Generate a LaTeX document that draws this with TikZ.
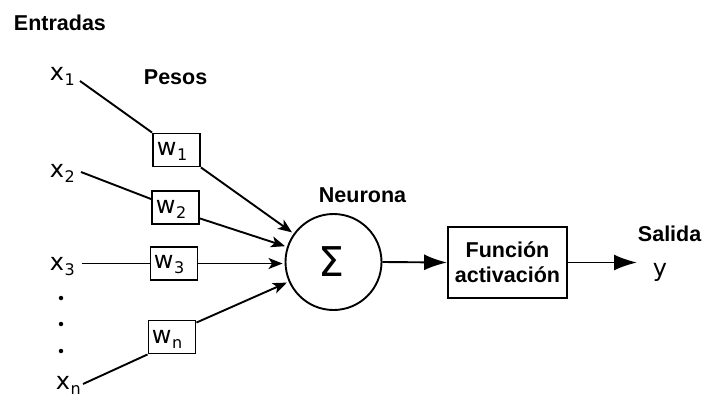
\documentclass[tikz,border=0pt]{standalone}
\usepackage{fontspec}
\newfontfamily\dejavu{DejaVu Sans}
\newfontfamily\arialike{Liberation Sans}
\usetikzlibrary{arrows.meta}

% variable with a lowered index, e.g. x_1, w_n
\newcommand{\varsub}[2]{{\fontsize{24}{24}\selectfont #1}\kern0.5pt\raisebox{-5pt}{\fontsize{16}{16}\selectfont #2}}

\begin{document}
\begin{tikzpicture}[x=1pt,y=-1pt,
  line width=1.9pt,
  title/.style={font=\arialike\bfseries\fontsize{21.5}{25}\selectfont, inner sep=0pt, anchor=base west},
  var/.style={font=\dejavu, inner sep=0pt, anchor=base west},
  wbox/.style={draw, minimum width=47pt, minimum height=33pt, inner sep=0pt},
  dot/.style={circle, fill, minimum size=4.5pt, inner sep=0pt},
  small arrow/.style={-{Stealth[length=14pt,width=11pt,inset=3.5pt]}, shorten >=2pt},
  big arrow/.style={-{Latex[length=23pt,width=16pt]}},
]
\useasboundingbox (0,0) rectangle (702,394);

% headings
\node[title] (entradas) at (13,30) {Entradas};
\node[title] (pesos) at (143,84) {Pesos};
\node[title] (neurona) at (318,202) {Neurona};
\node[title] (salida) at (637,241) {Salida};

% inputs
\node[var] (x1) at (49,80) {\varsub{x}{1}};
\node[var] (x2) at (49,177) {\varsub{x}{2}};
\node[var] (x3) at (49,270) {\varsub{x}{3}};
\node[var] (xn) at (55,389) {\varsub{x}{n}};
\node[dot] (d1) at (61,298) {};
\node[dot] (d2) at (61,324) {};
\node[dot] (d3) at (61,351) {};

% weights
\node[wbox] (w1) at (176.5,150) {};
\node[wbox] (w2) at (175.5,207.5) {};
\node[wbox] (w3) at (174,263.5) {};
\node[wbox] (wn) at (172,337) {};
\node[var] (w1t) at (156,155) {\varsub{w}{1}};
\node[var] (w2t) at (155,213) {\varsub{w}{2}};
\node[var] (w3t) at (153,268) {\varsub{w}{3}};
\node[var] (wnt) at (151,343) {\varsub{w}{n}};

% summing neuron and activation
\node[draw, circle, minimum size=96pt, inner sep=0pt] (sum) at (333.5,262) {};
\node[font=\dejavu\fontsize{41}{41}\selectfont, inner sep=0pt] (sigma) at (331,262) {Σ};
\node[draw, minimum width=119pt, minimum height=71pt, inner sep=0pt, align=center,
      font=\arialike\bfseries\fontsize{21.5}{25}\selectfont] (fun) at (507.5,262.5) {Función\\activación};
\node[var] (yout) at (652,276) {\fontsize{24}{24}\selectfont y};

% input lines into the weights
\coordinate (x1end) at (80,81);
\coordinate (x2end) at (81,172);
\coordinate (x3end) at (82,263.5);
\coordinate (xnend) at (83,384);
\draw (x1end) -- (w1.north west);
\draw (x2end) -- ([yshift=8.5pt]w2.west);
\draw (x3end) -- (w3.west);
\draw (xnend) -- (wn.south west);

% weighted inputs into the neuron
\draw[small arrow] (w1.south east) -- (sum);
\draw[small arrow] ([yshift=6.5pt]w2.south east) -- (sum);
\draw[small arrow] (w3.east) -- (w3.east -| sum.west);
\draw[small arrow] ([yshift=-3pt]wn.north east) -- (sum);

% output path
\draw[big arrow] (sum.east) -- (fun.west);
\draw[big arrow, shorten >=15pt] (fun.east) -- (fun.east -| yout.west);
\end{tikzpicture}
\end{document}
